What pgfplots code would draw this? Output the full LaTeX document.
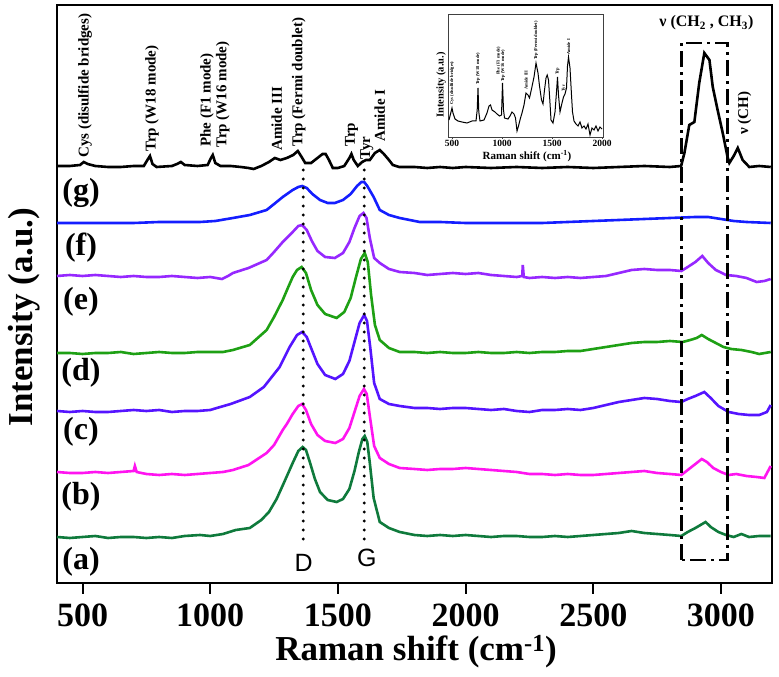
\documentclass[border=0pt]{standalone}
\usepackage{fontspec}
\setmainfont{Liberation Serif}
\newfontfamily\sansf{Liberation Sans}
\usepackage{pgfplots}
\pgfplotsset{compat=1.18}
\definecolor{cA}{RGB}{15,122,60}
\definecolor{cB}{RGB}{255,20,240}
\definecolor{cC}{RGB}{85,20,255}
\definecolor{cE}{RGB}{30,160,20}
\definecolor{cF}{RGB}{150,40,255}
\definecolor{cG}{RGB}{20,30,255}
\begin{document}
\begin{tikzpicture}[x=1pt,y=1pt]
\useasboundingbox (0,0) rectangle (779,677);
\begin{axis}[at={(57pt,94pt)}, anchor=south west, scale only axis,
  width=715pt, height=578pt, xmin=400, xmax=3200, ymin=0, ymax=578,
  ytick=\empty, xtick={500,1000,1500,2000,2500,3000}, xtick pos=bottom,
  tick align=outside, major tick length=11pt,
  tick style={line width=2pt, black},
  axis line style={line width=2.6pt},
  /pgf/number format/assume math mode=true, /pgf/number format/1000 sep={},
  xticklabel style={font=\fontsize{34}{40}\selectfont\bfseries, inner sep=0pt, yshift=-10pt},
  clip=false]
% (a) dark green
\addplot[color=cA, line width=2.6pt] coordinates {
(400,46)(450,45)(500,46)(550,47)(600,45)(650,46)(700,46)(750,45)(800,46)(850,45)(900,47)(960,48)(1000,47)(1050,49)(1100,53)(1155,55)(1200,63)(1230,71)(1260,84)(1290,101)(1323,120)(1345,132)(1362,136)(1375,133)(1390,121)(1410,104)(1430,91)(1460,83)(1495,81)(1520,84)(1545,94)(1565,112)(1582,131)(1596,144)(1605,147)(1615,141)(1625,120)(1640,85)(1664,61)(1700,55)(1742,51)(1800,48)(1850,47)(1900,48)(1950,47)(2000,48)(2050,47)(2100,46)(2150,47)(2200,47)(2250,46)(2300,46)(2350,47)(2400,46)(2450,47)(2500,48)(2550,49)(2600,50)(2650,52)(2700,50)(2750,49)(2800,48)(2845,47)(2870,51)(2900,55)(2920,58)(2940,61)(2960,56)(2990,51)(3020,48)(3050,46)(3080,49)(3110,46)(3150,47)(3195,47)};
% (b) magenta
\addplot[color=cB, line width=2.6pt] coordinates {
(400,111)(450,110)(500,110)(550,111)(600,110)(650,111)(700,112)(705,117)(712,111)(750,109)(800,108)(850,109)(900,108)(950,109)(1000,110)(1050,111)(1089,113)(1150,118)(1221,130)(1250,138)(1284,153)(1300,159)(1323,169)(1345,177)(1360,179)(1375,173)(1395,159)(1420,148)(1450,142)(1490,140)(1520,144)(1545,155)(1565,171)(1585,187)(1602,194)(1613,189)(1625,167)(1642,137)(1664,125)(1700,119)(1742,115)(1800,114)(1850,113)(1900,114)(1950,114)(2000,115)(2050,114)(2100,113)(2150,112)(2200,111)(2250,109)(2300,109)(2350,108)(2400,109)(2450,108)(2500,108)(2550,109)(2600,110)(2650,111)(2700,112)(2750,110)(2800,109)(2845,108)(2870,113)(2900,119)(2925,124)(2945,121)(2970,115)(3000,111)(3030,108)(3060,109)(3100,107)(3140,106)(3170,105)(3195,117)};
% blue-violet
\addplot[color=cC, line width=2.6pt] coordinates {
(400,172)(450,171)(500,172)(550,171)(600,171)(650,172)(700,173)(750,172)(800,173)(850,171)(900,172)(950,172)(1000,173)(1026,175)(1080,179)(1155,186)(1210,196)(1272,216)(1311,236)(1340,248)(1360,251)(1378,246)(1398,233)(1420,219)(1450,208)(1490,204)(1520,209)(1545,222)(1565,241)(1585,260)(1603,268)(1614,262)(1627,235)(1642,200)(1664,184)(1700,179)(1742,177)(1800,175)(1850,175)(1900,174)(1950,175)(2000,175)(2050,174)(2100,173)(2150,174)(2200,172)(2250,171)(2300,173)(2350,173)(2400,174)(2450,173)(2500,175)(2550,178)(2600,181)(2650,183)(2700,185)(2750,184)(2800,182)(2845,181)(2870,184)(2900,187)(2935,191)(2960,185)(2990,177)(3030,171)(3070,169)(3110,168)(3150,168)(3180,171)(3195,178)};
% (e) green
\addplot[color=cE, line width=2.6pt] coordinates {
(400,230)(450,230)(500,229)(550,230)(600,230)(650,231)(700,229)(750,230)(800,231)(850,230)(900,230)(950,231)(1000,231)(1050,231)(1089,233)(1155,238)(1221,253)(1250,266)(1284,283)(1304,295)(1323,306)(1340,313)(1358,316)(1375,310)(1395,293)(1420,278)(1450,269)(1495,265)(1525,271)(1550,285)(1570,305)(1590,324)(1605,330)(1617,321)(1630,288)(1645,258)(1664,243)(1700,235)(1742,231)(1800,231)(1850,230)(1900,231)(1950,230)(2000,230)(2050,231)(2100,230)(2150,230)(2200,231)(2250,230)(2300,231)(2350,231)(2400,232)(2450,232)(2500,234)(2550,236)(2600,238)(2650,240)(2700,241)(2750,241)(2800,242)(2850,241)(2880,243)(2905,245)(2925,248)(2950,244)(2980,240)(3010,236)(3040,234)(3080,233)(3120,231)(3150,229)(3195,231)};
% (f) purple
\addplot[color=cF, line width=2.6pt] coordinates {
(400,307)(450,308)(500,307)(550,308)(600,307)(650,306)(700,307)(750,306)(800,306)(850,307)(900,306)(950,305)(1000,306)(1046,304)(1070,307)(1089,310)(1150,315)(1221,323)(1250,331)(1284,341)(1323,351)(1345,357)(1360,358)(1378,353)(1398,342)(1420,332)(1450,326)(1488,325)(1520,330)(1545,341)(1565,355)(1585,367)(1600,370)(1612,365)(1625,345)(1642,325)(1664,320)(1700,314)(1742,311)(1800,310)(1850,308)(1900,309)(1950,310)(2000,309)(2050,310)(2100,308)(2150,307)(2200,306)(2222,307)(2224,318)(2228,306)(2250,305)(2300,306)(2350,305)(2400,306)(2450,305)(2500,306)(2550,307)(2600,310)(2650,313)(2700,314)(2750,313)(2800,313)(2845,312)(2870,316)(2900,321)(2927,327)(2950,320)(2980,313)(3020,308)(3060,307)(3100,305)(3140,301)(3170,302)(3195,304)};
% (g) blue
\addplot[color=cG, line width=2.6pt] coordinates {
(400,360)(500,360)(600,360)(700,360)(800,361)(900,361)(960,361)(1020,362)(1089,365)(1155,368)(1221,373)(1260,381)(1284,386)(1323,393)(1345,396)(1360,397)(1378,395)(1400,389)(1430,383)(1460,380)(1488,380)(1520,383)(1550,389)(1575,397)(1592,401)(1603,401)(1615,397)(1640,386)(1664,373)(1700,368)(1742,365)(1820,361)(1900,361)(2000,360)(2100,360)(2200,360)(2300,360)(2400,361)(2500,362)(2600,363)(2700,364)(2800,365)(2900,366)(2950,366)(3000,364)(3050,362)(3100,361)(3195,360)};
% protein (black)
\addplot[color=black, line width=2.6pt] coordinates {
(400,417)(450,417)(490,418)(505,421)(520,419)(550,417)(600,416)(650,416)(700,417)(740,417)(754,423)(764,427)(774,419)(790,416)(850,417)(870,419)(885,421)(900,418)(950,417)(990,418)(1003,425)(1010,428)(1020,420)(1040,417)(1080,417)(1120,416)(1150,415)(1170,414)(1200,417)(1230,421)(1253,425)(1275,423)(1300,425)(1325,428)(1343,432)(1358,426)(1372,420)(1395,420)(1420,425)(1440,429)(1452,429)(1465,423)(1480,415)(1500,415)(1525,417)(1545,425)(1553,429)(1562,423)(1578,417)(1595,421)(1610,423)(1625,423)(1645,430)(1664,433)(1680,429)(1700,423)(1715,418)(1740,416)(1800,416)(1850,415)(1900,416)(1950,415)(2000,416)(2100,415)(2200,416)(2300,415)(2400,416)(2500,415)(2600,416)(2700,417)(2800,416)(2844,417)(2857,430)(2876,458)(2896,461)(2915,500)(2935,530)(2955,523)(2968,496)(2987,473)(3007,450)(3026,426)(3033,420)(3050,427)(3066,435)(3085,423)(3111,416)(3150,417)(3195,416)};
% D and G guide lines
\draw[line width=3.2pt, dash pattern=on 0pt off 9pt, line cap=round] (axis cs:1364,413) -- (axis cs:1364,43);
\draw[line width=3.2pt, dash pattern=on 0pt off 9pt, line cap=round] (axis cs:1603,413) -- (axis cs:1603,43);
\node[font=\sansf\fontsize{25}{28}\selectfont] at (axis cs:1366,20) {D};
\node[font=\sansf\fontsize{25}{28}\selectfont] at (axis cs:1613,25) {G};
% dash-dot box
\draw[line width=2.8pt, dash pattern=on 16pt off 5pt on 3pt off 5pt] (axis cs:2845,23) rectangle (axis cs:3026,540);
% sample labels
\node[font=\fontsize{32}{36}\selectfont\bfseries] at (axis cs:494,21) {(a)};
\node[font=\fontsize{32}{36}\selectfont\bfseries] at (axis cs:494,86) {(b)};
\node[font=\fontsize{32}{36}\selectfont\bfseries] at (axis cs:494,151) {(c)};
\node[font=\fontsize{32}{36}\selectfont\bfseries] at (axis cs:494,210) {(d)};
\node[font=\fontsize{32}{36}\selectfont\bfseries] at (axis cs:494,281) {(e)};
\node[font=\fontsize{32}{36}\selectfont\bfseries] at (axis cs:494,335) {(f)};
\node[font=\fontsize{32}{36}\selectfont\bfseries] at (axis cs:494,390) {(g)};
% band labels
\node[rotate=90, anchor=west, inner sep=0pt, font=\fontsize{15}{16}\selectfont\bfseries] at (axis cs:510,425) {Cys (disulfide bridges)};
\node[rotate=90, anchor=west, inner sep=0pt, font=\fontsize{15}{16}\selectfont\bfseries] at (axis cs:772,431) {Trp (W18 mode)};
\node[rotate=90, anchor=west, inner sep=0pt, font=\fontsize{15}{16}\selectfont\bfseries] at (axis cs:987,436) {Phe (F1 mode)};
\node[rotate=90, anchor=west, inner sep=0pt, font=\fontsize{15}{16}\selectfont\bfseries] at (axis cs:1049,435) {Trp (W16 mode)};
\node[rotate=90, anchor=west, inner sep=0pt, font=\fontsize{15}{16}\selectfont\bfseries] at (axis cs:1261,432) {Amide III};
\node[rotate=90, anchor=west, inner sep=0pt, font=\fontsize{15}{16}\selectfont\bfseries] at (axis cs:1347,436) {Trp (Fermi doublet)};
\node[rotate=90, anchor=west, inner sep=0pt, font=\fontsize{15}{16}\selectfont\bfseries] at (axis cs:1554,436) {Trp};
\node[rotate=90, anchor=west, inner sep=0pt, font=\fontsize{15}{16}\selectfont\bfseries] at (axis cs:1613,423) {Tyr};
\node[rotate=90, anchor=west, inner sep=0pt, font=\fontsize{15}{16}\selectfont\bfseries] at (axis cs:1664,441) {Amide I};
\node[font=\fontsize{16}{18}\selectfont\bfseries] at (axis cs:2943,560) {ν (CH\textsubscript{2} , CH\textsubscript{3})};
\node[rotate=90, font=\fontsize{15}{16}\selectfont\bfseries] at (axis cs:3092,470) {ν (CH)};
\end{axis}
% outer labels
\node[inner sep=0pt, font=\fontsize{35}{40}\selectfont\bfseries] at (416,25) {Raman shift (cm\textsuperscript{\smash{-1}})};
\node[inner sep=0pt, rotate=90, font=\fontsize{35}{40}\selectfont\bfseries] at (24,360) {Intensity (a.u.)};
% inset
\begin{axis}[at={(448pt,540pt)}, anchor=south west, scale only axis,
  width=155pt, height=123pt, xmin=460, xmax=2010, ymin=0, ymax=123,
  ytick=\empty, xtick={500,1000,1500,2000}, xtick pos=bottom,
  tick align=outside, major tick length=2pt,
  tick style={line width=0.8pt, black!75},
  axis line style={line width=0.8pt, black!75},
  /pgf/number format/assume math mode=true, /pgf/number format/1000 sep={},
  xticklabel style={font=\fontsize{9.5}{10}\selectfont\bfseries, inner sep=1pt},
  clip=false]
\addplot[color=black, line width=1pt] coordinates {
(470,17)(490,25)(500,29)(510,24)(530,18)(560,16)(600,15)(650,14)(700,16)(740,16)(752,27)(760,49)(768,25)(780,16)(820,17)(850,24)(870,31)(885,32)(900,27)(930,25)(950,23)(975,21)(995,22)(1005,54)(1015,27)(1025,19)(1060,18)(1080,21)(1100,25)(1120,23)(1135,19)(1150,6)(1165,11)(1185,19)(1200,24)(1220,32)(1240,44)(1260,42)(1275,39)(1295,48)(1320,60)(1340,74)(1350,69)(1360,64)(1375,51)(1395,37)(1410,33)(1425,47)(1440,59)(1452,62)(1465,57)(1478,37)(1490,17)(1510,14)(1530,25)(1545,45)(1555,60)(1565,42)(1580,25)(1600,34)(1615,40)(1630,43)(1645,49)(1655,71)(1665,80)(1680,69)(1695,42)(1705,25)(1720,16)(1740,13)(1760,11)(1780,15)(1800,9)(1820,11)(1840,8)(1860,13)(1880,2)(1900,9)(1920,7)(1940,11)(1960,6)(1980,10)(2000,8)};
\node[rotate=90, anchor=west, inner sep=0pt, font=\fontsize{4.5}{5}\selectfont\bfseries] at (axis cs:500,32) {Cys (disulfide bridges)};
\node[rotate=90, anchor=west, inner sep=0pt, font=\fontsize{4.5}{5}\selectfont\bfseries] at (axis cs:760,52) {Trp (W18 mode)};
\node[rotate=90, anchor=west, inner sep=0pt, font=\fontsize{4.5}{5}\selectfont\bfseries] at (axis cs:965,62) {Phe (F1 mode)};
\node[rotate=90, anchor=west, inner sep=0pt, font=\fontsize{4.5}{5}\selectfont\bfseries] at (axis cs:1010,55) {Trp (W16 mode)};
\node[rotate=90, anchor=west, inner sep=0pt, font=\fontsize{4.5}{5}\selectfont\bfseries] at (axis cs:1240,47) {Amide III};
\node[rotate=90, anchor=west, inner sep=0pt, font=\fontsize{4.5}{5}\selectfont\bfseries] at (axis cs:1340,77) {Trp (Fermi doublet)};
\node[rotate=90, anchor=west, inner sep=0pt, font=\fontsize{4.5}{5}\selectfont\bfseries] at (axis cs:1555,62) {Trp};
\node[rotate=90, anchor=west, inner sep=0pt, font=\fontsize{4.5}{5}\selectfont\bfseries] at (axis cs:1620,45) {Tyr};
\node[rotate=90, anchor=west, inner sep=0pt, font=\fontsize{4.5}{5}\selectfont\bfseries] at (axis cs:1665,82) {Amide I};
\end{axis}
\node[font=\fontsize{11}{12}\selectfont\bfseries] at (527,521) {Raman shift (cm\textsuperscript{-1})};
\node[rotate=90, font=\fontsize{10.5}{12}\selectfont\bfseries] at (441,592) {Intensity (a.u.)};
\end{tikzpicture}
\end{document}
